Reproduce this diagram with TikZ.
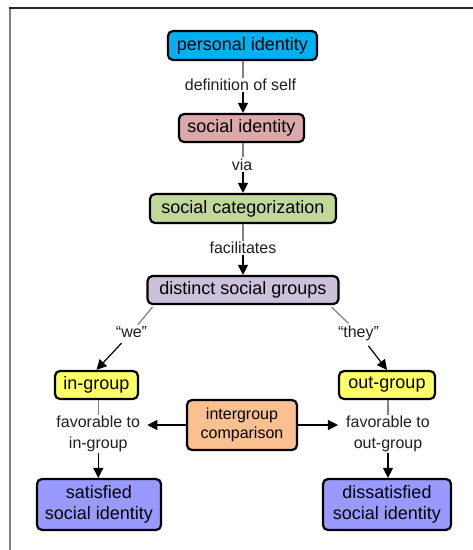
\documentclass[tikz,border=0pt]{standalone}
\usepackage{fontspec}
\setmainfont{Liberation Sans}
\usetikzlibrary{arrows.meta}
\definecolor{cpi}{HTML}{00B0F0}
\definecolor{csi}{HTML}{DBA9A9}
\definecolor{csc}{HTML}{C4D79B}
\definecolor{cdsg}{HTML}{CCC1DA}
\definecolor{cgrp}{HTML}{FFFF66}
\definecolor{cigc}{HTML}{FAC090}
\definecolor{cres}{HTML}{9999FF}
\begin{document}
\begin{tikzpicture}[x=1pt,y=-1pt,
  box/.style={draw=black, line width=2.2pt, rounded corners=5pt, inner sep=0pt, align=center, font=\fontsize{18}{21}\selectfont, text=black},
  lbl/.style={inner sep=1pt, align=center, font=\fontsize{16}{21}\selectfont, text=black!88},
  glink/.style={draw=gray, line width=1.2pt},
  alink/.style={draw=black, line width=1.2pt, -{Triangle[length=10pt,width=10pt]}}]
\useasboundingbox (0,0) rectangle (473,550);
\fill[white] (0,0) rectangle (473,550);
\draw[line width=1.2pt, gray] (10,8) -- (10,550);
\draw[line width=1.5pt, black!85] (9.4,8) -- (473,8);
\coordinate (cx) at (243,0);
% boxes
\node[box, fill=cpi, minimum width=149pt, minimum height=29pt] (pi) at (242.5,45.5) {personal identity};
\node[box, fill=csi, minimum width=125pt, minimum height=28pt] (si) at (241.5,128) {social identity};
\node[box, fill=csc, minimum width=186pt, minimum height=29pt] (sc) at (243,208.5) {social categorization};
\node[box, fill=cdsg, minimum width=191pt, minimum height=28pt] (dsg) at (243,290) {distinct social groups};
\node[box, fill=cgrp, minimum width=83pt, minimum height=28pt] (ing) at (96.5,385) {in-group};
\node[box, fill=cgrp, minimum width=96pt, minimum height=28pt] (outg) at (387,385) {out-group};
\node[box, fill=cigc, minimum width=110pt, minimum height=50pt, font=\fontsize{16}{18.5}\selectfont] (igc) at (242,425) {intergroup\\comparison};
\node[box, fill=cres, minimum width=124pt, minimum height=51pt] (sat) at (99,504.5) {satisfied\\social identity};
\node[box, fill=cres, minimum width=128pt, minimum height=51pt] (dis) at (387,504.5) {dissatisfied\\social identity};
% labels
\node[lbl] (l1) at (240.5,85) {definition of self};
\node[lbl] (l2) at (242,164.5) {via};
\node[lbl] (l3) at (243,248) {facilitates};
\node[lbl, inner sep=2pt] (we) at (131.5,332.5) {\textquotedblleft we\textquotedblright};
\node[lbl, inner sep=2pt] (they) at (358.5,333) {\textquotedblleft they\textquotedblright};
\node[lbl] (favin) at (98.3,434) {favorable to\\in-group};
\node[lbl] (favout) at (388,434) {favorable to\\out-group};
% connectors
\draw[glink] (pi.south -| cx) -- (l1.north -| cx);
\draw[alink] (l1.south -| cx) -- (si.north -| cx);
\draw[glink] (si.south -| cx) -- (l2.north -| cx);
\draw[alink] (l2.south -| cx) -- (sc.north -| cx);
\draw[glink] (sc.south -| cx) -- (l3.north -| cx);
\draw[alink] (l3.south -| cx) -- (dsg.north -| cx);
\coordinate (wl) at ([xshift=6pt,yshift=-2pt]dsg.south west);
\coordinate (wr) at ([xshift=-8pt,yshift=-2pt]dsg.south east);
\draw[glink] (wl) -- (we);
\draw[alink, shorten <=4pt] (we) -- (ing.north);
\draw[glink] (wr) -- (they);
\draw[alink, shorten <=4pt] (they) -- (outg.north);
\draw[glink] (ing.south -| favin.north) -- (favin.north);
\draw[alink] (favin.south) -- (favin.south |- sat.north);
\draw[glink] (outg.south -| favout.north) -- (favout.north);
\draw[alink] (favout.south) -- (favout.south |- dis.north);
\draw[alink, shorten >=6pt] (igc.west) -- (igc.west -| favin.east);
\draw[alink, shorten >=7pt] (igc.east) -- (igc.east -| favout.west);
\end{tikzpicture}
\end{document}
